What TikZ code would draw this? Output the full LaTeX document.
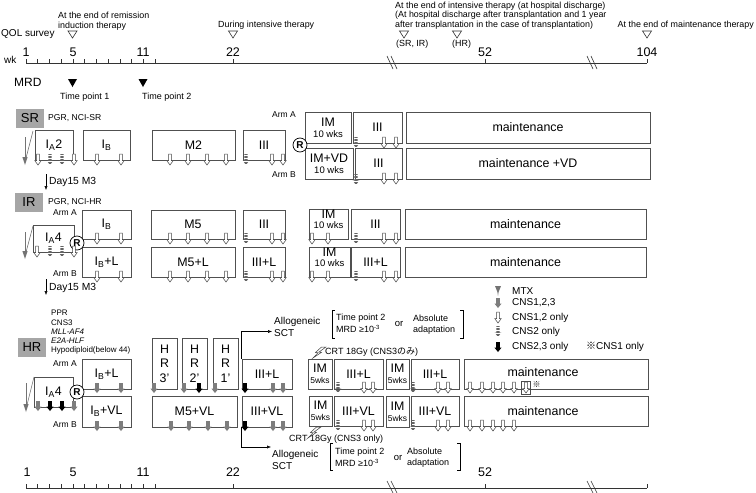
\documentclass[tikz,border=0pt]{standalone}
\usepackage{fontspec}
\setmainfont{Liberation Sans}
\newfontfamily\jpf{Noto Sans CJK JP}
\usetikzlibrary{arrows.meta}
\newcommand\FS[1]{\fontsize{#1}{#1}\selectfont}
\definecolor{boxc}{RGB}{80,80,80}
\definecolor{grayb}{RGB}{166,166,166}
\definecolor{arrg}{RGB}{125,125,125}
\definecolor{mtxc}{RGB}{115,115,115}
\definecolor{hatc}{RGB}{100,100,100}
\newcommand\Bx[7][]{\node[bx,#1,minimum width={#5pt-#3pt},minimum height={#6pt-#4pt}] (#2) at ({(#3+#5)/2},{(#4+#6)/2}) {#7};}
\newcommand\Ar[3]{\pic at (#2,#3) {#1};}
\newcommand\Mtx[3]{\draw[mtxc,line width=0.6pt] (#1+8,#2) -- (#1,#3-3);
  \draw[mtxc,line width=0.6pt] (#1,#2+6) -- (#1,#3-3);
  \fill[mtxc] (#1-2.6,#3-8) -- (#1+2.6,#3-8) -- (#1,#3) -- cycle;}
\begin{document}
\begin{tikzpicture}[x=1pt,y=-1pt,
  bx/.style={draw=boxc,line width=0.6pt,fill=white,inner sep=0pt,font=\FS{12.4},align=center},
  gbx/.style={fill=grayb,inner sep=0pt,font=\FS{13},minimum width=28pt,minimum height=19pt},
  lt/.style={inner sep=0pt,anchor=west},
  hd/.style={lt,font=\FS{8.9}},
  sm/.style={lt,font=\FS{8.6}},
  wkl/.style={inner sep=0pt,font=\FS{12.5}},
  axl/.style={draw=black!80,line width=0.6pt},
  conn/.style={line width=0.5pt,-{Latex[length=4pt,width=3.2pt]}},
  oA/.pic={\draw[line width=0.5pt,draw=black!75,fill=white] (-1.4,-11) -- (1.4,-11) -- (1.4,-4.5) -- (3.3,-4.5) -- (0,0) -- (-3.3,-4.5) -- (-1.4,-4.5) -- cycle;},
  hA/.pic={\begin{scope}\clip (-1.7,-11) -- (1.7,-11) -- (1.7,-4.5) -- (3.3,-4.5) -- (0,0) -- (-3.3,-4.5) -- (-1.7,-4.5) -- cycle;
     \foreach \q in {-10.5,-9,...,0}{\draw[hatc,line width=0.7pt] (-4,\q) -- (4,\q);}\end{scope}},
  gA/.pic={\fill[arrg] (-1.8,-10) -- (1.8,-10) -- (1.8,-4.5) -- (3.6,-4.5) -- (0,0) -- (-3.6,-4.5) -- (-1.8,-4.5) -- cycle;},
  kA/.pic={\fill[black] (-1.8,-10) -- (1.8,-10) -- (1.8,-4.5) -- (3.6,-4.5) -- (0,0) -- (-3.6,-4.5) -- (-1.8,-4.5) -- cycle;},
  bolt/.pic={\draw[black!75,line width=0.5pt,fill=white] (13,0) -- (6,5) -- (8.5,5.3) -- (0,11) -- (5,5.8) -- (2.5,5.5) -- (8.5,0) -- cycle;},
  opentri/.pic={\draw[black!80,line width=0.6pt,fill=white] (-4.5,0) -- (4.5,0) -- (0,7) -- cycle;},
  fulltri/.pic={\fill[black] (-4.5,0) -- (4.5,0) -- (0,8) -- cycle;},
  rcirc/.style={circle,draw=black,line width=0.7pt,fill=white,inner sep=0pt,minimum size=14pt,font=\bfseries\FS{10}}
]
\useasboundingbox (0,0) rectangle (756,493);

% ---------------- header ----------------
\node[lt,font=\FS{10}] (qol) at (1,34) {QOL survey};
\node[hd] (h1a) at (58,15) {At the end of remission};
\node[hd] (h1b) at (58,26.5) {induction therapy};
\node[hd] (h2) at (218,25) {During intensive therapy};
\node[hd] (h3a) at (395,6) {At the end of intensive therapy (at hospital discharge)};
\node[hd] (h3b) at (395,15.5) {(At hospital discharge after transplantation and 1 year};
\node[hd] (h3c) at (395,25) {after transplantation in the case of transplantation)};
\node[hd,anchor=east] (h4) at (754,25) {At the end of maintenance therapy};
\node[hd] (sri) at (396,44) {(SR, IR)};
\node[hd] (hrl) at (452,44) {(HR)};
\pic at (72.5,31) {opentri};
\pic at (233,31) {opentri};
\pic at (404,31) {opentri};
\pic at (457,31) {opentri};
\pic at (647,31) {opentri};

\node[lt,font=\FS{10}] (wk) at (4,60) {wk};
\node[wkl] (t1) at (26,52) {1};
\node[wkl] (t5) at (73,52) {5};
\node[wkl] (t11) at (143,52) {11};
\node[wkl] (t22) at (233,52) {22};
\node[wkl] (t52) at (485,52) {52};
\node[wkl] (t104) at (647,52) {104};
\draw[axl] (26,63) -- (647,63);
\foreach \k in {0,...,11}{\draw[axl] (26+11.75*\k,59) -- (26+11.75*\k,63);}
\foreach \xx in {233,485,647}{\draw[axl] (\xx,59) -- (\xx,63);}
\foreach \xx in {387,587}{\draw[axl] (\xx,56) -- (\xx+6,69); \draw[axl] (\xx+4,56) -- (\xx+10,69);}

\node[lt,font=\FS{12}] (mrd) at (14,82) {MRD};
\pic at (72.5,79) {fulltri};
\pic at (143,79) {fulltri};
\node[lt,font=\FS{9}] (tp1) at (60,97) {Time point 1};
\node[lt,font=\FS{9}] (tp2) at (142,97) {Time point 2};

% ---------------- SR ----------------
\node[gbx] (sr) at (30,118) {SR};
\node[sm] (srt) at (48,118) {PGR, NCI-SR};
\Bx{sria}{35}{130}{73}{160}{I\textsubscript{A}2}
\Bx{srib}{83}{130}{130}{160}{I\textsubscript{B}}
\Bx{srm}{152}{130}{235}{160}{M2}
\Bx{sriii}{243}{130}{285}{160}{III}
\node[sm,font=\FS{8.5}] (srarmA) at (272,115) {Arm A};
\node[sm,font=\FS{8.5}] (srarmB) at (272,175) {Arm B};
\Bx{srima}{305}{112}{351}{143}{IM\\[-1pt]{\FS{9.5}10 wks}}
\Bx{sriiia}{353}{112}{402}{143}{III}
\Bx{srmaa}{406}{112}{650}{143}{maintenance}
\Bx{srimb}{305}{148}{353}{179}{IM+VD\\[-1pt]{\FS{9.5}10 wks}}
\Bx{sriiib}{355}{148}{402}{179}{III}
\Bx{srmab}{406}{148}{650}{179}{maintenance +VD}
\node[rcirc] (srR) at (300,145) {R};
\Mtx{25}{131}{165}
\Ar{oA}{38}{165}\Ar{hA}{50}{165}\Ar{hA}{62}{165}\Ar{oA}{74}{165}
\Ar{oA}{97}{165}\Ar{oA}{121}{165}
\foreach \xx in {170,188,207,226}{\Ar{oA}{\xx}{165}}
\Ar{hA}{246}{165}\Ar{oA}{272}{165}\Ar{oA}{283}{165}
\Ar{hA}{356}{148}\Ar{oA}{384}{148}\Ar{oA}{396}{148}
\Ar{hA}{356}{185}\Ar{oA}{384}{184}\Ar{oA}{396}{184}

\coordinate (d1s) at (46,174);
\coordinate (d1e) at (46,190);
\draw[conn] (d1s) -- (d1e);
\node[lt,font=\FS{10.3}] (d1) at (49,182) {Day15 M3};

% ---------------- IR ----------------
\node[gbx] (ir) at (29,202.5) {IR};
\node[sm] (irt) at (48,202) {PGR, NCI-HR};
\node[sm,font=\FS{8.5}] (irarmA) at (53,213) {Arm A};
\node[sm,font=\FS{8.5}] (irarmB) at (53,274) {Arm B};
\Bx{iria}{33}{225}{74}{252}{I\textsubscript{A}4}
\Bx{irib}{82}{210}{131}{239}{I\textsubscript{B}}
\Bx{iribl}{82}{247}{131}{277}{I\textsubscript{B}+L}
\Bx{irm}{151}{210}{235}{239}{M5}
\Bx{irml}{151}{247}{235}{277}{M5+L}
\Bx{iriii}{243}{210}{285}{239}{III}
\Bx{iriiil}{243}{247}{285}{277}{III+L}
\Bx[text depth=9pt]{irima}{309}{209}{348}{239}{IM\\[-2pt]{\FS{9.5}10 wks}}
\Bx{iriiia}{351}{209}{400}{239}{III}
\Bx{irmaa}{405}{209}{646}{239}{maintenance}
\Bx[text depth=9pt]{irimb}{309}{247}{350}{277}{IM\\[-2pt]{\FS{9.5}10 wks}}
\Bx{iriiib}{351}{247}{400}{277}{III+L}
\Bx{irmab}{405}{247}{646}{277}{maintenance}
\node[rcirc] (irR) at (77,243) {R};
\Mtx{25}{226}{259}
\Ar{oA}{37}{257}\Ar{hA}{50}{257}\Ar{hA}{62}{257}\Ar{oA}{74}{257}
\foreach \yy in {244,282}{
  \Ar{oA}{97}{\yy}\Ar{oA}{121}{\yy}
  \foreach \xx in {170,188,207,226}{\Ar{oA}{\xx}{\yy}}
  \Ar{hA}{246}{\yy}\Ar{oA}{272}{\yy}\Ar{oA}{283}{\yy}
  \Ar{oA}{312}{\yy}\Ar{oA}{328}{\yy}
  \Ar{hA}{356}{\yy}\Ar{oA}{384}{\yy}\Ar{oA}{396}{\yy}
}
\coordinate (d2s) at (46,279);
\coordinate (d2e) at (46,295);
\draw[conn] (d2s) -- (d2e);
\node[lt,font=\FS{10.3}] (d2) at (49,288) {Day15 M3};

% ---------------- HR ----------------
\node[lt,font=\FS{8}] (p1) at (51,313) {PPR};
\node[lt,font=\FS{8}] (p2) at (51,322.3) {CNS3};
\node[lt,font=\FS{8}\itshape] (p3) at (51,331.6) {MLL-AF4};
\node[lt,font=\FS{8}\itshape] (p4) at (51,340.9) {E2A-HLF};
\node[lt,font=\FS{8}] (p5) at (51,350.2) {Hypodiploid(below 44)};
\node[gbx] (hr) at (32,347.5) {HR};
\node[sm,font=\FS{8.5}] (hrarmA) at (53,364) {Arm A};
\node[sm,font=\FS{8.5}] (hrarmB) at (53,425) {Arm B};
\Bx{hria}{34}{377}{73}{407}{I\textsubscript{A}4}
\Bx{hribl}{82}{359}{131}{389}{I\textsubscript{B}+L}
\Bx{hribvl}{82}{396}{131}{427}{I\textsubscript{B}+VL}
\Bx[font=\fontsize{12.4}{14.5}\selectfont]{hr3}{152}{338}{177}{389}{H\\R\\3'}
\Bx[font=\fontsize{12.4}{14.5}\selectfont]{hr2}{182}{338}{207}{389}{H\\R\\2'}
\Bx[font=\fontsize{12.4}{14.5}\selectfont]{hr1}{213}{338}{238}{389}{H\\R\\1'}
\Bx{hrm}{152}{396}{237}{427}{M5+VL}
\Bx{hriiil}{242}{359}{292}{389}{III+L}
\Bx{hriiivl}{242}{396}{292}{427}{III+VL}
\Bx{hrima}{308}{359}{332}{389}{IM\\[-1pt]{\FS{8.5}5wks}}
\Bx{hriiia}{334}{359}{383}{389}{III+L}
\Bx{hrimc}{386}{359}{409}{389}{IM\\[-1pt]{\FS{8.5}5wks}}
\Bx{hriiic}{411}{359}{459}{389}{III+L}
\Bx[text depth=4pt]{hrmaa}{464}{359}{648}{389}{maintenance\hspace*{26pt}}
\Bx{hrimb}{309}{396}{332}{426}{IM\\[-1pt]{\FS{8.5}5wks}}
\Bx{hriiib}{334}{396}{383}{426}{III+VL}
\Bx{hrimd}{386}{396}{409}{427}{IM\\[-1pt]{\FS{8.5}5wks}}
\Bx{hriiid}{411}{396}{459}{426}{III+VL}
\Bx{hrmab}{464}{396}{648}{426}{maintenance\hspace*{26pt}}
\node[rcirc] (hrR) at (77,392) {R};
\Mtx{26}{377}{412}
\Ar{gA}{38}{411}\Ar{kA}{50}{411}\Ar{kA}{62}{411}\Ar{gA}{74}{411}
\foreach \yy in {393,431}{
  \Ar{gA}{97}{\yy}\Ar{gA}{121}{\yy}
  \Ar{kA}{245}{\yy}\Ar{gA}{273}{\yy}\Ar{gA}{283}{\yy}
  \Ar{hA}{338}{\yy}\Ar{oA}{364}{\yy}\Ar{oA}{373}{\yy}
  \Ar{hA}{413}{\yy}\Ar{oA}{438}{\yy}\Ar{oA}{448}{\yy}
  \foreach \xx in {470,482,493,503,514}{\Ar{oA}{\xx}{\yy}}
}
\Ar{gA}{154}{393}\Ar{gA}{184}{393}\Ar{kA}{199}{393}\Ar{gA}{215}{393}
\foreach \xx in {171,189,208,227}{\Ar{gA}{\xx}{431}}
\draw[black!70,line width=0.5pt] (521.5,381) rectangle (530.5,394);
\Ar{oA}{526}{393}
\node[inner sep=0pt,font=\jpf\FS{8}] (kome) at (536.5,385) {※};

% Allogeneic SCT
\node[lt,font=\FS{10}] (allo1) at (274,322) {Allogeneic};
\node[lt,font=\FS{10}] (sct1) at (274,333) {SCT};
\draw[conn] (hriiil.north west) |- ([xshift=-2pt,yshift=1.5pt]sct1.west);
\node[lt,font=\FS{10}] (allo2) at (272,455) {Allogeneic};
\node[lt,font=\FS{10}] (sct2) at (272,466) {SCT};
\coordinate (a2) at (271,447);
\draw[conn] (hriiivl.south west) |- (a2);

% brackets
\draw[line width=0.5pt] (335,310) -- (332,310) -- (332,338) -- (335,338);
\draw[line width=0.5pt] (460,310) -- (463,310) -- (463,338) -- (460,338);
\node[lt,font=\FS{9}] (b1a) at (336,318) {Time point 2};
\node[lt,font=\FS{9}] (b1b) at (336,329) {MRD ≥10\textsuperscript{-3}};
\node[inner sep=0pt,font=\FS{9.5}] (b1or) at (399,324) {or};
\node[lt,font=\FS{9}] (b1c) at (413,318) {Absolute};
\node[lt,font=\FS{9}] (b1d) at (413,330) {adaptation};
\draw[line width=0.5pt] (333,443) -- (330,443) -- (330,470) -- (333,470);
\draw[line width=0.5pt] (457,443) -- (460,443) -- (460,470) -- (457,470);
\node[lt,font=\FS{9}] (b2a) at (335,452) {Time point 2};
\node[lt,font=\FS{9}] (b2b) at (335,463) {MRD ≥10\textsuperscript{-3}};
\node[inner sep=0pt,font=\FS{9.5}] (b2or) at (398,458) {or};
\node[lt,font=\FS{9}] (b2c) at (407,451) {Absolute};
\node[lt,font=\FS{9}] (b2d) at (407,463) {adaptation};

% CRT
\pic at (313,347) {bolt};
\node[lt,font=\FS{9}] (crt1) at (325,352) {CRT 18Gy (CNS3{\jpf のみ})};
\node[lt,font=\FS{9}] (crt2) at (289,439) {CRT 18Gy (CNS3 only)};
\pic at (308,427) {bolt};

% legend
\fill[mtxc] (495,286) -- (501,286) -- (498.6,292) -- (498,296) -- (497.4,292) -- cycle;
\node[lt,font=\FS{10}] (lg0) at (512,291) {MTX};
\Ar{gA}{498}{308}
\node[lt,font=\FS{10}] (lg1) at (512,303) {CNS1,2,3};
\Ar{oA}{498}{323}
\node[lt,font=\FS{10}] (lg2) at (512,318) {CNS1,2 only};
\Ar{hA}{498}{337}
\node[lt,font=\FS{10}] (lg3) at (512,332) {CNS2 only};
\Ar{kA}{498}{352}
\node[lt,font=\FS{10}] (lg4) at (512,347) {CNS2,3 only};
\node[lt,font=\FS{10}] (lg5) at (586,347) {{\jpf ※}CNS1 only};

% bottom axis
\node[wkl] (b1) at (27,472) {1};
\node[wkl] (b5) at (73,472) {5};
\node[wkl] (b11) at (143,472) {11};
\node[wkl] (b22) at (233,472) {22};
\node[wkl] (b52) at (485,472) {52};
\draw[axl] (26,488) -- (647,488);
\foreach \k in {0,...,11}{\draw[axl] (26+11.75*\k,484) -- (26+11.75*\k,488);}
\foreach \xx in {233,485,647}{\draw[axl] (\xx,484) -- (\xx,488);}
\foreach \xx in {387,587}{\draw[axl] (\xx,481) -- (\xx+6,493); \draw[axl] (\xx+4,481) -- (\xx+10,493);}
\end{tikzpicture}
\end{document}
